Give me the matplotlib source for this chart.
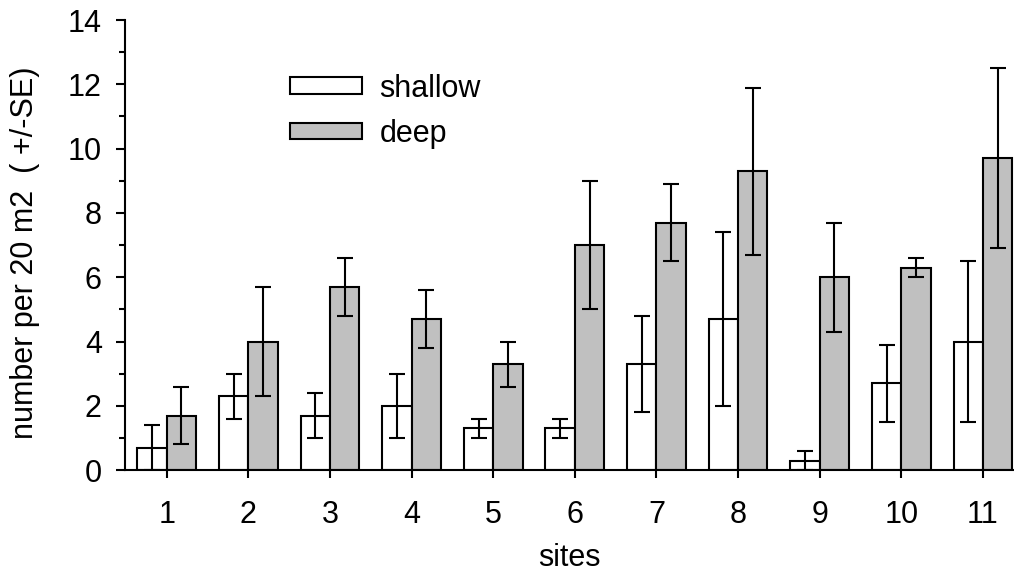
import numpy as np
import matplotlib.pyplot as plt

plt.rcParams['font.family'] = ['Liberation Sans', 'DejaVu Sans']

sites = [1, 2, 3, 4, 5, 6, 7, 8, 9, 10, 11]
shallow = [0.7, 2.3, 1.7, 2.0, 1.3, 1.3, 3.3, 4.7, 0.3, 2.7, 4.0]
shallow_se = [0.7, 0.7, 0.7, 1.0, 0.3, 0.3, 1.5, 2.7, 0.3, 1.2, 2.5]
deep = [1.7, 4.0, 5.7, 4.7, 3.3, 7.0, 7.7, 9.3, 6.0, 6.3, 9.7]
deep_se = [0.9, 1.7, 0.9, 0.9, 0.7, 2.0, 1.2, 2.6, 1.7, 0.3, 2.8]

x = np.array(sites, dtype=float)
w = 0.36
lw = 1.5

fig = plt.figure(figsize=(10.14, 5.72), dpi=100)
ax = fig.add_axes([0.123, 0.178, 0.877, 0.787])

err_kw = dict(ecolor='black', elinewidth=lw, capsize=5.5, capthick=lw)
ax.bar(x - w / 2, shallow, w, yerr=shallow_se, color='white', edgecolor='black',
       linewidth=lw, label='shallow', error_kw=err_kw)
ax.bar(x + w / 2, deep, w, yerr=deep_se, color='#c0c0c0', edgecolor='black',
       linewidth=lw, label='deep', error_kw=err_kw)

ax.set_xlim(0.485, 11.38)
ax.set_ylim(0, 14)
ax.set_xticks(sites)
ax.set_yticks(np.arange(0, 15, 2))
ax.set_yticks(np.arange(1, 14, 2), minor=True)

for s in ['top', 'right']:
    ax.spines[s].set_visible(False)
for s in ['left', 'bottom']:
    ax.spines[s].set_linewidth(lw)

ax.tick_params(axis='both', which='major', width=lw, labelsize=22, direction='out')
ax.tick_params(axis='y', which='major', length=6.5, pad=10)
ax.tick_params(axis='y', which='minor', length=4.3, width=lw)
ax.tick_params(axis='x', length=5.5, pad=16)

ax.set_xlabel('sites', fontsize=22, labelpad=9)
ax.set_ylabel('number per 20 m2  ( +/-SE)', fontsize=22)
ax.yaxis.set_label_coords(-0.0956, 0.482)

ax.legend(loc='upper left', bbox_to_anchor=(0.169, 0.915), frameon=False,
          fontsize=22, handlelength=2.36, handleheight=0.45, handletextpad=0.56,
          labelspacing=0.5, borderpad=0)

fig.savefig('out.png', dpi=100)
